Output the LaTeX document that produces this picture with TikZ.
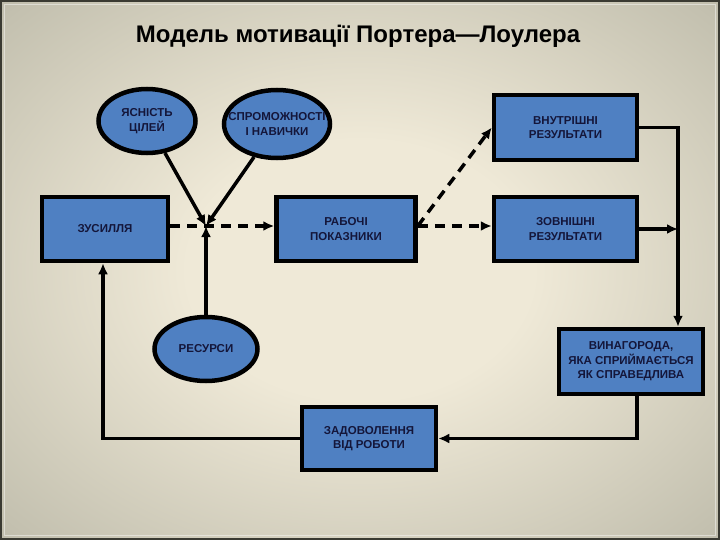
\documentclass[tikz,border=0pt]{standalone}
\usepackage{fontspec}
\setmainfont{Liberation Sans}
\usetikzlibrary{shapes.geometric,arrows.meta}
\definecolor{bgin}{HTML}{EFE9D7}
\definecolor{bgmid}{HTML}{C3C0AF}
\definecolor{bgout}{HTML}{8C8A7E}
\definecolor{boxblue}{HTML}{4F80C2}
\definecolor{txt}{HTML}{14163A}
\definecolor{frame}{HTML}{3A3A32}
\pgfdeclareradialshading{bgshade}{\pgfpoint{0bp}{0bp}}{color(0bp)=(bgin); color(12bp)=(bgin); color(34bp)=(bgmid); color(50bp)=(bgout)}
\begin{document}
\begin{tikzpicture}[x=1pt,y=-1pt,
  box/.style={draw=black,fill=boxblue,line width=4.5pt,rectangle,inner sep=0pt,align=center,text=txt,font=\fontsize{11.5}{14.5}\selectfont\bfseries},
  oval/.style={box,ellipse},
  lbl/.style={align=center,text=txt,inner sep=0pt,font=\fontsize{11.5}{14.5}\selectfont\bfseries},
  conn/.style={line width=3.5pt,-{Latex[length=11pt,width=10pt]}},
  dconn/.style={conn,dash pattern=on 10pt off 7pt}]
\useasboundingbox (0,0) rectangle (720,540);
\shade[shading=bgshade] (0,0) rectangle (720,540);
\draw[frame,line width=2pt] (1,1) rectangle (719,539);
\draw[white,opacity=0.45,line width=0.8pt] (4.5,4.5) rectangle (715.5,535.5);

\node[font=\fontsize{24}{28}\selectfont\bfseries,anchor=base,inner sep=0pt] (title) at (358,43) {Модель мотивації Портера—Лоулера};

\node[oval,minimum width=97,minimum height=64] (yas) at (147,121) {};
\node[lbl] (yast) at (yas) {ЯСНІСТЬ\\ЦІЛЕЙ};
\node[oval,minimum width=106,minimum height=68] (spr) at (277,124) {};
\node[lbl] (sprt) at (spr) {СПРОМОЖНОСТІ\\І НАВИЧКИ};
\node[oval,minimum width=103,minimum height=64] (res) at (206,349) {};
\node[lbl] (rest) at (res) {РЕСУРСИ};

\node[box,minimum width=126,minimum height=64] (zus) at (105,229) {ЗУСИЛЛЯ};
\node[box,minimum width=139,minimum height=64] (rab) at (346,229) {РАБОЧІ\\ПОКАЗНИКИ};
\node[box,minimum width=143,minimum height=65] (vn) at (565.5,127.5) {ВНУТРІШНІ\\РЕЗУЛЬТАТИ};
\node[box,minimum width=143,minimum height=64] (zov) at (565.5,229) {ЗОВНІШНІ\\РЕЗУЛЬТАТИ};
\node[box,minimum width=144,minimum height=65] (vin) at (631,361.5) {ВИНАГОРОДА,\\ЯКА СПРИЙМАЄТЬСЯ\\ЯК СПРАВЕДЛИВА};
\node[box,minimum width=134,minimum height=63] (zad) at (369,438.5) {ЗАДОВОЛЕННЯ\\ВІД РОБОТИ};

\coordinate (J) at (206,226);
\coordinate (R) at (678,0);
\coordinate (B) at (637,0);
\coordinate (L) at (103,0);

\draw[conn] (yas) -- (J);
\draw[conn] (spr) -- (J);
\draw[conn] (res) -- (J);
\draw[dconn] (zus.east |- J) -- (rab.west |- J);
\draw[dconn] (rab.east |- J) -- (zov.west |- J);
\draw[dconn] (rab.east |- J) -- (vn.west);
\draw[conn] (vn.east) -| (vin.north -| R);
\draw[conn] (zov.east) -- (zov.east -| R);
\draw[conn] (vin.south -| B) |- (zad.east);
\draw[conn] (zad.west) -| (zus.south -| L);
\end{tikzpicture}
\end{document}
